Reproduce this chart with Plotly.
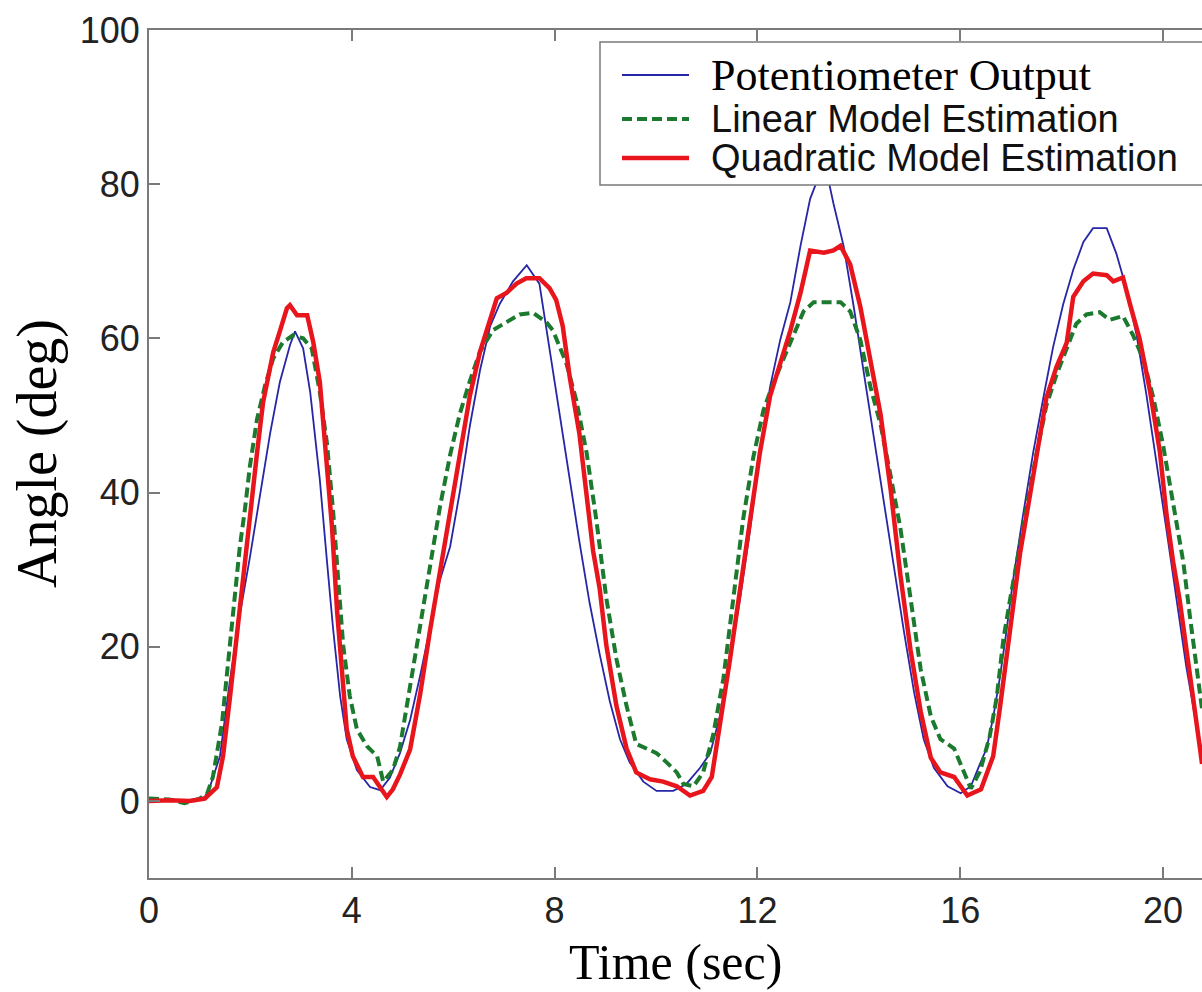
import plotly.graph_objects as go

# ---------------- data ----------------
pot_t = [0.0, 0.4, 0.8, 1.1, 1.2, 1.40, 1.60, 1.79, 1.99, 2.19, 2.39, 2.58, 2.78, 2.88, 3.04, 3.18,
         3.37, 3.51, 3.63, 3.77, 3.90, 4.10, 4.36, 4.56, 4.75, 4.95, 5.15, 5.35, 5.54, 5.74, 5.94,
         6.13, 6.33, 6.53, 6.73, 6.92, 7.18, 7.45, 7.70, 7.90, 8.10, 8.30, 8.49, 8.69, 8.89, 9.09,
         9.29, 9.48, 9.75, 10.01, 10.34, 10.60, 10.87, 11.07, 11.26, 11.46, 11.66, 11.86, 12.05,
         12.25, 12.45, 12.65, 12.85, 13.04, 13.24, 13.37, 13.50, 13.70, 13.90, 14.10, 14.30, 14.49,
         14.69, 14.89, 15.09, 15.28, 15.48, 15.75, 16.01, 16.21, 16.39, 16.52, 16.65, 16.78, 16.91,
         17.04, 17.24, 17.44, 17.64, 17.83, 18.03, 18.23, 18.43, 18.62, 18.89, 19.08, 19.28, 19.48,
         19.67, 19.87, 20.07, 20.27, 20.46, 20.66, 20.77]
pot_y = [0.2, 0.0, 0.1, 0.5, 1.8, 5.8, 15.8, 24.1, 31.6, 39.9, 47.7, 54.3, 59.1, 60.9, 58.7, 53.0,
         41.6, 31.1, 22.4, 13.6, 8.0, 4.0, 1.8, 1.4, 3.0, 6.2, 10.5, 16.3, 22.5, 28.7, 33.0,
         40.1, 48.7, 55.9, 61.6, 64.5, 67.4, 69.5, 67.1, 58.6, 50.1, 41.5, 33.6, 25.7, 19.0, 12.9,
         8.0, 5.0, 2.5, 1.3, 1.3, 2.2, 4.3, 6.2, 11.0, 18.4, 26.3, 35.4, 45.2,
         53.7, 59.8, 64.7, 72.0, 78.1, 81.5, 81.5, 77.5, 72.0, 64.1, 55.5, 47.0, 38.5,
         30.5, 22.0, 14.1, 8.0, 4.3, 1.9, 1.0, 1.9, 4.8, 6.8, 10.8, 15.9, 21.9,
         28.5, 37.1, 45.2, 52.3, 58.8, 64.4, 68.9, 72.5, 74.3, 74.3, 71.0, 66.4, 60.4,
         52.8, 44.2, 35.1, 26.0, 17.4, 9.8, 6.3]

lin_t = [0.0, 0.4, 0.7, 1.0, 1.15, 1.26, 1.44, 1.56, 1.70, 1.79, 1.89, 1.99, 2.13, 2.29, 2.45, 2.64,
         2.84, 3.04, 3.21, 3.37, 3.51, 3.63, 3.73, 3.83, 3.96, 4.10, 4.30, 4.50, 4.62, 4.81, 4.95,
         5.15, 5.35, 5.54, 5.74, 5.94, 6.13, 6.33, 6.53, 6.79, 7.05, 7.31, 7.58, 7.85, 7.97, 8.23,
         8.43, 8.63, 8.82, 9.02, 9.22, 9.42, 9.61, 9.81, 10.01, 10.21, 10.41, 10.54, 10.74, 10.93,
         11.13, 11.33, 11.53, 11.72, 11.92, 12.12, 12.32, 12.52, 12.71, 12.91, 13.11, 13.37, 13.64,
         13.83, 14.03, 14.23, 14.43, 14.63, 14.82, 15.02, 15.22, 15.42, 15.61, 15.88, 16.08, 16.21,
         16.39, 16.58, 16.72, 16.85, 16.98, 17.11, 17.31, 17.51, 17.70, 17.90, 18.10, 18.29, 18.49,
         18.75, 18.95, 19.21, 19.41, 19.61, 19.81, 20.00, 20.20, 20.40, 20.53, 20.66, 20.77]
lin_y = [0.3, 0.2, -0.3, 0.3, 1.0, 3.1, 10.1, 18.0, 26.8, 32.9, 37.7, 43.4, 49.5, 53.9, 57.4, 59.5,
         60.4, 60.0, 58.7, 53.0, 46.4, 37.7, 28.9, 20.2, 13.6, 9.3, 7.1, 5.8, 2.5, 4.0, 7.0,
         14.8, 22.9, 30.6, 38.2, 44.9, 50.2, 54.5, 58.3, 61.1, 62.1, 63.1, 63.3, 62.0, 61.0, 56.8,
         51.9, 45.2, 36.6, 26.3, 18.4, 12.3, 7.4, 6.8, 6.2, 5.0, 3.7, 2.2, 1.9, 3.7,
         8.6, 15.9, 27.0, 36.6, 44.6, 50.7, 54.3, 57.4, 60.4, 63.5, 64.7, 64.7, 64.7,
         63.5, 59.8, 53.7, 48.8, 42.1, 35.4, 26.3, 17.1, 11.0, 8.0, 6.8, 3.7, 1.6,
         3.8, 8.3, 13.4, 20.9, 26.0, 31.0, 38.1, 45.2, 51.3, 55.3, 58.8, 61.9, 63.1,
         63.4, 62.4, 62.9, 60.4, 57.3, 52.3, 46.2, 38.6, 31.0, 24.0, 16.9, 11.9]

quad_t = [0.0, 0.4, 0.8, 1.1, 1.34, 1.46, 1.60, 1.73, 1.85, 1.99, 2.13, 2.25, 2.35, 2.45, 2.58, 2.72,
          2.78, 2.92, 3.12, 3.24, 3.37, 3.51, 3.61, 3.71, 3.81, 3.90, 4.02, 4.22, 4.42, 4.56, 4.69,
          4.81, 4.95, 5.15, 5.35, 5.54, 5.74, 5.94, 6.13, 6.33, 6.53, 6.73, 6.86, 7.05, 7.25, 7.44,
          7.70, 7.90, 8.03, 8.16, 8.30, 8.49, 8.63, 8.76, 8.89, 9.02, 9.22, 9.42, 9.61, 9.88, 10.14,
          10.41, 10.67, 10.93, 11.10, 11.26, 11.46, 11.66, 11.86, 12.05, 12.25, 12.45, 12.65, 12.85,
          13.04, 13.31, 13.50, 13.64, 13.83, 14.03, 14.23, 14.43, 14.63, 14.82, 15.02, 15.22, 15.42,
          15.61, 15.88, 16.14, 16.41, 16.65, 16.78, 16.91, 17.04, 17.18, 17.31, 17.51, 17.70, 17.90,
          18.10, 18.23, 18.43, 18.62, 18.89, 19.02, 19.21, 19.35, 19.54, 19.74, 19.94, 20.07, 20.20,
          20.33, 20.46, 20.59, 20.73, 20.77]
quad_y = [0.0, 0.1, 0.0, 0.3, 1.8, 5.8, 13.6, 21.5, 28.9, 37.2, 45.1, 51.7, 55.2, 58.2, 60.9, 63.9,
          64.3, 63.0, 63.0, 59.5, 54.3, 44.2, 35.5, 24.6, 15.8, 9.3, 5.8, 3.1, 3.1, 1.8, 0.5,
          1.5, 3.4, 6.7, 13.9, 22.0, 29.7, 37.3, 44.9, 52.6, 58.3, 62.6, 65.2, 65.9, 67.1, 67.8,
          67.8, 66.5, 65.0, 61.6, 54.9, 47.6, 40.3, 32.4, 27.5, 20.2, 12.3, 6.8, 3.7, 2.8, 2.5,
          1.9, 0.7, 1.3, 3.1, 9.8, 18.4, 27.5, 36.6, 45.2, 52.5, 56.8, 61.0, 65.9,
          71.4, 71.1, 71.4, 72.0, 69.6, 64.1, 56.8, 50.1, 40.3, 29.3, 19.6, 11.6, 5.6,
          3.7, 3.1, 0.7, 1.5, 5.8, 11.9, 18.4, 26.0, 32.1, 37.1, 45.2, 52.3, 56.3,
          59.4, 65.4, 67.4, 68.4, 68.2, 67.4, 67.9, 64.4, 59.9, 53.3, 45.2, 37.1, 31.0,
          26.0, 19.4, 13.4, 6.8, 4.8]

series_names = ["Potentiometer Output", "Linear Model Estimation", "Quadratic Model Estimation"]
x_ticks = [0, 4, 8, 12, 16, 20]
y_ticks = [0, 20, 40, 60, 80, 100]
x_title = "Time (sec)"
y_title = "Angle (deg)"

# ---------------- styling / layout constants ----------------
W, H = 1202, 992
L, R, T, B = 149, 0, 30, 114
PW, PH = W - L - R, H - T - B          # 1053 x 848 plot area
PLOT_LEFT, PLOT_BOTTOM = L, H - B      # in window pixels

def px_x(p):
    return (p - PLOT_LEFT) / PW

def px_y(p):
    return (PLOT_BOTTOM - p) / PH

BLUE = "#2626a6"
GREEN = "#1b7a2e"
RED = "#e8151d"
AXIS = "#7a7a7a"
SANS = "Liberation Sans, Arial, sans-serif"
SERIF = "Liberation Serif, Times New Roman, serif"

fig = go.Figure()
fig.add_trace(go.Scatter(x=pot_t, y=pot_y, mode="lines", name=series_names[0],
                         line=dict(color=BLUE, width=1.8)))
fig.add_trace(go.Scatter(x=lin_t, y=lin_y, mode="lines", name=series_names[1],
                         line=dict(color=GREEN, width=4, dash="10px,5px")))
fig.add_trace(go.Scatter(x=quad_t, y=quad_y, mode="lines", name=series_names[2],
                         line=dict(color=RED, width=4.5)))

axis_common = dict(showgrid=False, zeroline=False, showline=True, linecolor=AXIS, linewidth=2,
                   ticks="inside", ticklen=11, tickwidth=1.5, tickcolor=AXIS,
                   tickfont=dict(family=SANS, size=36, color="#222222"))

fig.update_xaxes(range=[0, PW / 50.7], tickvals=x_ticks, ticktext=[str(v) for v in x_ticks],
                 mirror="allticks", ticklabelstandoff=0, **axis_common)
fig.update_yaxes(range=[-10, 100], tickvals=y_ticks, ticktext=[str(v) for v in y_ticks],
                 mirror=False, ticklabelstandoff=0, **axis_common)

# legend box (drawn manually so it can run off the right edge like the original)
shapes = [dict(type="rect", xref="paper", yref="paper", x0=px_x(600), x1=px_x(1230),
               y0=px_y(185), y1=px_y(42), line=dict(color=AXIS, width=1.5),
               fillcolor="white", layer="above")]
rows = [75, 119, 158]
styles = [dict(color=BLUE, width=2), dict(color=GREEN, width=4, dash="10px,5px"),
          dict(color=RED, width=4.5)]
fonts = [dict(family=SERIF, size=44, color="black"), dict(family=SANS, size=38, color="#111111"),
         dict(family=SANS, size=38, color="#111111")]
annotations = []
for ry, st, fn, nm in zip(rows, styles, fonts, series_names):
    shapes.append(dict(type="line", xref="paper", yref="paper", x0=px_x(622), x1=px_x(689),
                       y0=px_y(ry), y1=px_y(ry), line=st, layer="above"))
    annotations.append(dict(text=nm, xref="paper", yref="paper", x=px_x(709), y=px_y(ry),
                            xanchor="left", yanchor="middle", showarrow=False, font=fn))

annotations.append(dict(text=x_title, xref="paper", yref="paper", x=px_x(675), y=px_y(962),
                        xanchor="center", yanchor="middle", showarrow=False,
                        font=dict(family=SERIF, size=50, color="black")))
annotations.append(dict(text=y_title, xref="paper", yref="paper", x=px_x(37), y=px_y(454),
                        xanchor="center", yanchor="middle", showarrow=False, textangle=-90,
                        font=dict(family=SERIF, size=56, color="black")))

fig.update_layout(width=W, height=H, margin=dict(l=L, r=R, t=T, b=B, pad=0),
                  paper_bgcolor="white", plot_bgcolor="white", showlegend=False,
                  shapes=shapes, annotations=annotations)

# remove the browser's default 8px body margin so the figure fills the window exactly
fig.write_html("out.html", config={"displayModeBar": False},
               post_script="document.body.style.margin='0';document.body.style.overflow='hidden';")
